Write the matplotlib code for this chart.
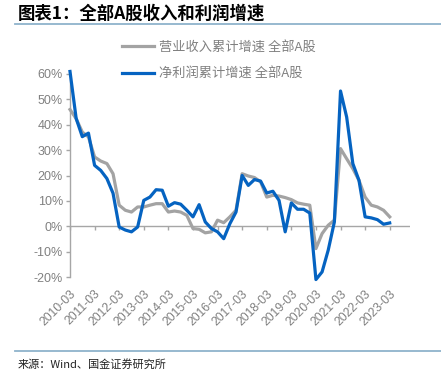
import matplotlib
matplotlib.use("Agg")
import matplotlib.pyplot as plt
from matplotlib.lines import Line2D
import numpy as np

plt.rcParams['font.family'] = ['Noto Sans CJK SC', 'DejaVu Sans']

title = "图表1：全部A股收入和利润增速"
source = "来源：Wind、国金证券研究所"
series_names = ["营业收入累计增速 全部A股", "净利润累计增速 全部A股"]

# quarterly, 2010-03 .. 2023-03
revenue = [46, 42.4, 37.1, 35.2, 27.3, 25.7, 24.7, 20.7, 8.3, 6.3, 5.6, 7.6,
           7.6, 8.3, 8.9, 8.9, 5.6, 6.0, 5.6, 4.3, -0.9, -1.2, -2.6, -2.2,
           2.4, 1.4, 3.7, 6.3, 20.7, 19.8, 19.2, 17.5, 11.5, 12.2, 11.9, 11.3,
           10.5, 9.2, 8.7, 8.3, -8.8, -2.9, 0.4, 2.4, 30.6, 26.6, 22.7, 18.1,
           11.5, 8.3, 7.6, 6.3, 3.7]
profit = [61, 42.5, 35.3, 36.7, 24, 22, 18.8, 13, -0.3, -1.5, -2.2, -0.3,
          10.2, 11.5, 14.4, 14.2, 7.9, 9.3, 8.7, 6.3, 3.7, 8.5, 1.7, -0.9,
          -2.2, -4.9, 1, 5.6, 20, 16.1, 18.4, 17.8, 13.1, 13.8, 10.2, -2.2,
          9.2, 6.7, 6.7, 5.2, -21, -18, -9.4, 1.7, 53.3, 43, 24.7, 18.1,
          3.7, 3.3, 2.6, 0.8, 1.3]
tick_labels = [f"{y}-03" for y in range(2010, 2024)]
y_ticks = [-20, -10, 0, 10, 20, 30, 40, 50, 60]

W, H = 441, 373
fig = plt.figure(figsize=(W / 100, H / 100), dpi=100)
ax = fig.add_axes([70 / W, 1 - 277 / H, 340 / W, 203 / H])

x = np.arange(len(revenue))
gray_c = '#a3a3a3'
blue_c = '#0563c1'
txt_c = '#808080'

ax.axhline(0, color='#a6a6a6', lw=1.0, zorder=1)
ax.plot(x, revenue, color=gray_c, lw=2.3, label=series_names[0], clip_on=False, zorder=3,
        solid_joinstyle='round')
ax.plot(x, profit, color=blue_c, lw=2.3, label=series_names[1], clip_on=False, zorder=4,
        solid_joinstyle='round')

ax.set_xlim(0, 55.3)
ax.set_ylim(-20, 60)
ax.set_yticks(y_ticks)
ax.set_yticklabels([f"{v}%" for v in y_ticks], family=['Liberation Sans'], fontsize=9, color=txt_c)
for s in ['top', 'right', 'bottom']:
    ax.spines[s].set_visible(False)
ax.spines['left'].set_color('#a6a6a6')
ax.spines['left'].set_linewidth(1.0)
ax.tick_params(axis='y', direction='out', length=3, width=1, color='#a6a6a6', pad=2)

xt = np.arange(0, len(tick_labels)) * 4
ax.set_xticks(xt)
ax.set_xticklabels(tick_labels, rotation=45, ha='right', va='top', rotation_mode='anchor',
                   family=['Liberation Sans'], fontsize=8.8, color=txt_c)
ax.tick_params(axis='x', length=0, pad=8)

sec = ax.secondary_xaxis(0.25)
sec.set_xticks(xt)
sec.set_xticklabels([])
sec.spines['bottom'].set_visible(False)
sec.tick_params(axis='x', direction='out', length=3, width=1, color='#a6a6a6')

leg = fig.legend(loc='upper left', bbox_to_anchor=(122 / W, 1 - 41 / H), frameon=False,
                 fontsize=9.5, handlelength=2.4, handletextpad=0.4, labelspacing=1.0,
                 borderpad=0, borderaxespad=0)
for t in leg.get_texts():
    t.set_color(txt_c)

fig.text(18 / W, 1 - 14 / H, title, fontsize=12.5, fontweight='bold', fontstyle='italic',
         va='center', ha='left', color='black')
fig.add_artist(Line2D([15 / W, 1], [1 - 24 / H, 1 - 24 / H], color='#8fb3cc', lw=1.3))
fig.add_artist(Line2D([15 / W, 1], [1 - 351 / H, 1 - 351 / H], color='#8fb3cc', lw=1.3))
fig.text(18 / W, 1 - 364 / H, source, fontsize=8, va='center', ha='left', color='#222222')

fig.savefig('out.png', dpi=100)
